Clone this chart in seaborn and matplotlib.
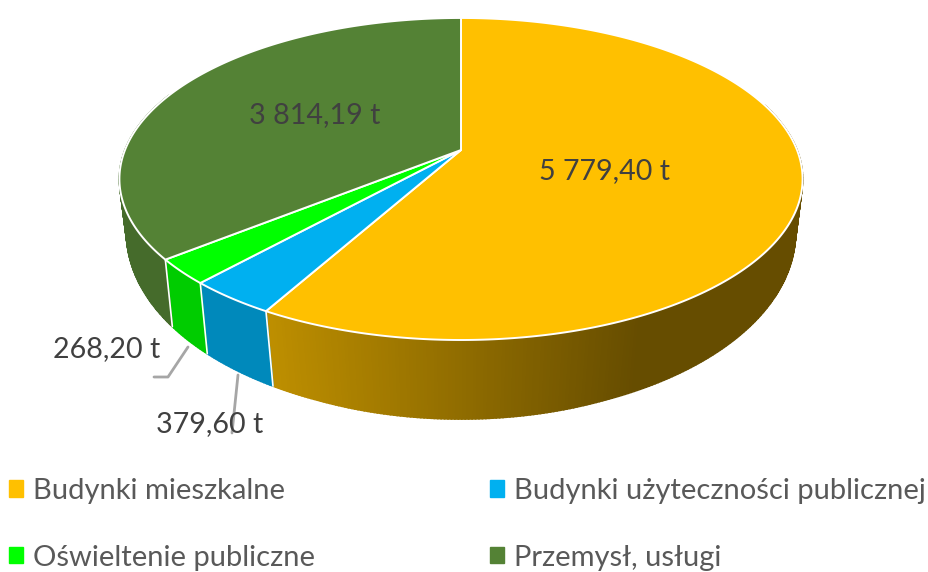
import numpy as np
import matplotlib
matplotlib.use('Agg')
import matplotlib.pyplot as plt
from matplotlib.patches import Patch
import seaborn as sns

categories = ['Budynki mieszkalne', 'Budynki użyteczności publicznej', 'Oświeltenie publiczne', 'Przemysł, usługi']
values = [5779.40, 379.60, 268.20, 3814.19]
colors = ['#FFC000', '#00B0F0', '#00FF00', '#548235']

sns.set_theme(style='white')
plt.rcParams['font.family'] = ['Lato', 'DejaVu Sans']

# rzut perspektywiczny kola na ekran (w pikselach)
CX, CY = 461, 150
A, B, K = 336, 155.8, 0.18


def project(deg):
    # kat liczony od gory, zgodnie z zegarem
    th = np.radians(deg + 3.2 * (1 - np.cos(np.radians(deg))))
    u, v = np.sin(th), np.cos(th)
    den = 1 + K * v
    return CX + A * u / den, CY - B * v / den, v


def lower(x, y, v):
    dx = -7 * np.clip((x - CX) / 150, -1, 1)
    return x + dx, y + 47 - 32 * v


def shade(slice_no, x):
    if slice_no == 0:
        return np.interp(x, [270, 640], [0.74, 0.40])
    return [0, 0.78, 0.80, 0.82][slice_no]


fig = plt.figure(figsize=(9.29, 5.72), dpi=100)
ax = fig.add_axes([0, 0, 1, 1])
wedges, _ = ax.pie(values, startangle=90, counterclock=False, colors=colors)
angles = [(90 - w.theta2, 90 - w.theta1) for w in wedges]
for w in wedges:
    w.remove()
ax.set_aspect('auto')
ax.set_xlim(0, 929)
ax.set_ylim(572, 0)
ax.axis('off')

# sciana boczna
for i, (start, end) in enumerate(angles):
    lo, hi = max(start, 70), min(end, 290)
    if hi <= lo:
        continue
    steps = np.linspace(lo, hi, max(int((hi - lo) * 2), 2))
    base = np.array(matplotlib.colors.to_rgb(colors[i]))
    for a, b in zip(steps[:-1], steps[1:]):
        x1, y1, v1 = project(a)
        x2, y2, v2 = project(b)
        x3, y3 = lower(x2, y2, v2)
        x4, y4 = lower(x1, y1, v1)
        c = base * shade(i, (x1 + x2) / 2)
        ax.fill([x1, x2, x3, x4], [y1, y2, y3, y4], color=c, lw=1.2, zorder=2)
    # biale krawedzie scian
    if i > 0:
        x1, y1, v1 = project(lo)
        x4, y4 = lower(x1, y1, v1)
        ax.plot([x1, x4], [y1, y4], color='white', lw=1.2, zorder=3)

# gorna powierzchnia
for i, (start, end) in enumerate(angles):
    a = np.linspace(start, end, 300)
    x, y, _ = project(a)
    ax.fill(np.r_[CX, x], np.r_[CY, y], color=colors[i], ec='white', lw=1.4, zorder=4)


def fmt(val):
    return f'{val:,.2f}'.replace(',', ' ').replace('.', ',') + ' t'


# linie odniesienia
ax.plot([188, 168, 154], [347, 377, 377], color='#A6A6A6', lw=2, zorder=5)
ax.plot([238, 232], [375, 433], color='#A6A6A6', lw=2, zorder=5)

label_pos = [(605, 171), (210, 424), (107, 349), (315, 115)]
for val, (lx, ly) in zip(values, label_pos):
    ax.text(lx, ly, fmt(val), ha='center', va='center', fontsize=20.6, color='#404040', zorder=6)

order = [0, 2, 1, 3]
handles = [Patch(color=colors[i]) for i in order]
labels = [categories[i] for i in order]
ax.legend(handles, labels, ncol=2, loc='lower left', bbox_to_anchor=(0, -0.013), frameon=False,
          fontsize=21, labelcolor='#595959', handlelength=0.48, handleheight=0.48,
          handletextpad=0.35, columnspacing=6.0, labelspacing=1.4, borderpad=0, borderaxespad=0.3)

fig.savefig('out.png', dpi=100)
